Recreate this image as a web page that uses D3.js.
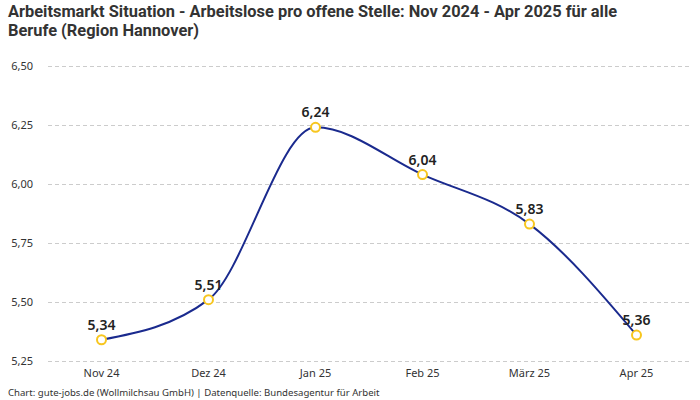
<!DOCTYPE html>
<html>
<head>
<meta charset="utf-8">
<script src="https://cdn.jsdelivr.net/npm/d3@7"></script>
<style>
  body { margin: 0; background: #fff; }
  svg { font-family: "Noto Sans", sans-serif; }
</style>
</head>
<body>
<script>
const months = ["Nov 24", "Dez 24", "Jan 25", "Feb 25", "März 25", "Apr 25"];
const values = [5.34, 5.51, 6.24, 6.04, 5.83, 5.36];
const yTicks = [5.25, 5.5, 5.75, 6.0, 6.25, 6.5];
const titleLines = ["Arbeitsmarkt Situation - Arbeitslose pro offene Stelle: Nov 2024 - Apr 2025 für alle",
                    "Berufe (Region Hannover)"];
const footer = "Chart: gute-jobs.de (Wollmilchsau GmbH) | Datenquelle: Bundesagentur für Arbeit";

const w = 700;
const h = 400;
const padL = 48, padR = 690, padT = 66, padB = 361;

const fmt = d3.format(".2f");
const de = (v) => fmt(v).replace(".", ",");

const x = d3.scaleBand().domain(months).range([padL, padR]).padding(0);
const y = d3.scaleLinear().domain([5.25, 6.5]).range([padB, padT]);

const svg = d3.select("body")
              .append("svg")
              .attr("width", w)
              .attr("height", h);

// title
svg.append("g").selectAll("text")
  .data(titleLines)
  .enter()
  .append("text")
  .attr("x", 8)
  .attr("y", (d, i) => 17 + i * 19)
  .attr("font-family", "'Liberation Sans Narrow', 'Roboto', sans-serif")
  .attr("font-weight", "bold")
  .attr("font-size", 16.4)
  .attr("fill", "#333")
  .text(d => d);

// grid + y labels
const yAxis = d3.axisLeft(y).tickValues(yTicks).tickFormat(de)
  .tickSize(-(padR - padL)).tickPadding(15);
const gy = svg.append("g").attr("transform", "translate(" + padL + ",0)").call(yAxis);
gy.select(".domain").remove();
gy.selectAll("line").attr("stroke", "#ccc").attr("stroke-dasharray", "4,3");
gy.selectAll("text").attr("font-size", 11).attr("fill", "#333")
  .attr("font-family", "'Noto Sans', sans-serif");

// x labels
const xAxis = d3.axisBottom(x).tickSize(0).tickPadding(8);
const gx = svg.append("g").attr("transform", "translate(0," + padB + ")").call(xAxis);
gx.select(".domain").remove();
gx.selectAll("text").attr("font-size", 11).attr("fill", "#333")
  .attr("font-family", "'Noto Sans', sans-serif");

const cx = (d, i) => x(months[i]) + x.bandwidth() / 2;

const line = d3.line()
  .x(cx)
  .y(d => y(d))
  .curve(d3.curveMonotoneX);

svg.append("path")
  .datum(values)
  .attr("d", line)
  .attr("fill", "none")
  .attr("stroke", "#1a2a8e")
  .attr("stroke-width", 2);

svg.selectAll("circle.pt")
  .data(values)
  .enter()
  .append("circle")
  .attr("class", "pt")
  .attr("cx", cx)
  .attr("cy", d => y(d))
  .attr("r", 4.5)
  .attr("fill", "#fff")
  .attr("stroke", "#f7c61f")
  .attr("stroke-width", 2);

svg.selectAll("text.lbl")
  .data(values)
  .enter()
  .append("text")
  .attr("class", "lbl")
  .attr("x", cx)
  .attr("y", d => y(d) - 10)
  .attr("text-anchor", "middle")
  .attr("font-size", 14)
  .attr("font-weight", 600)
  .attr("fill", "#222")
  .text(d => de(d));

svg.append("text")
  .attr("x", 8)
  .attr("y", 396)
  .attr("font-size", 9.6)
  .attr("fill", "#333")
  .text(footer);
</script>
</body>
</html>
